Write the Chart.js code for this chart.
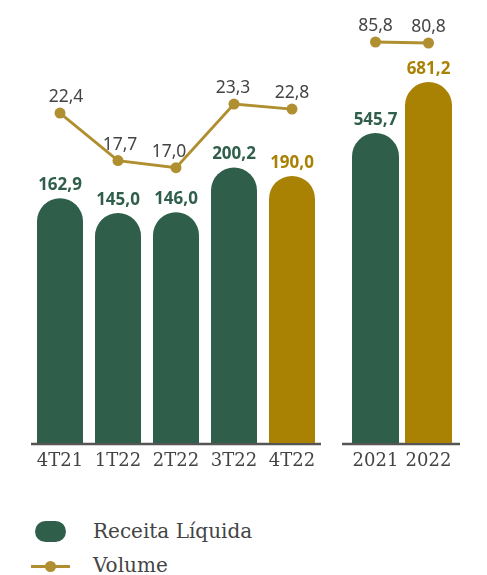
<!DOCTYPE html>
<html>
<head>
<meta charset="utf-8">
<script src="https://cdn.jsdelivr.net/npm/chart.js@4"></script>
<style>
  html, body { margin: 0; padding: 0; background: #fff; }
  #wrap { position: relative; width: 487px; height: 575px; overflow: hidden; }
  #cq { position: absolute; left: 0; top: 0; }
  #ca { position: absolute; left: 335px; top: 0; }
  .leg { position: absolute; left: 93px; font-family: "DejaVu Serif", serif; font-size: 20px; color: #444; line-height: 1; }
  .pill { position: absolute; left: 35px; top: 521px; width: 31px; height: 21px; border-radius: 10.5px; background: #2f5f4b; }
  .lline { position: absolute; left: 31px; top: 565px; width: 39px; height: 3px; background: #b08f30; }
  .ldot { position: absolute; left: 45px; top: 561px; width: 11px; height: 11px; border-radius: 50%; background: #b08f30; }
</style>
</head>
<body>
<div id="wrap">
  <canvas id="cq" width="335" height="480"></canvas>
  <canvas id="ca" width="152" height="480"></canvas>
  <div class="pill"></div>
  <div class="leg" style="top:521px">Receita Líquida</div>
  <div class="lline"></div>
  <div class="ldot"></div>
  <div class="leg" style="top:555px">Volume</div>
</div>
<script>
// ---- data ----
const quarterLabels = ['4T21', '1T22', '2T22', '3T22', '4T22'];
const quarterRevenue = [162.9, 145.0, 146.0, 200.2, 190.0];
const quarterVolume = [22.4, 17.7, 17.0, 23.3, 22.8];
const yearLabels = ['2021', '2022'];
const yearRevenue = [545.7, 681.2];
const yearVolume = [85.8, 80.8];

const GREEN = '#2f5f4b';
const GOLD = '#a98204';
const LINE = '#b08f30';
const fmt = v => v.toFixed(1).replace('.', ',');

const labelPlugin = {
  id: 'valLabels',
  afterDatasetsDraw(chart, args, opts) {
    const ctx = chart.ctx;
    ctx.save();
    ctx.textAlign = 'center';
    ctx.textBaseline = 'alphabetic';
    // bars
    const barMeta = chart.getDatasetMeta(0);
    const barDs = chart.data.datasets[0];
    ctx.font = 'bold 17px "Noto Sans", sans-serif';
    barMeta.data.forEach((el, i) => {
      ctx.fillStyle = barDs.backgroundColor[i];
      ctx.fillText(fmt(barDs.data[i]), el.x, el.y - 8);
    });
    // line
    const lineMeta = chart.getDatasetMeta(1);
    const lineDs = chart.data.datasets[1];
    ctx.font = '17.5px "Noto Sans", sans-serif';
    ctx.fillStyle = '#444';
    lineMeta.data.forEach((el, i) => {
      const dx = (opts.dx && opts.dx[i]) || 0;
      ctx.fillText(fmt(lineDs.data[i]), el.x + dx, el.y - 11);
    });
    ctx.restore();
  }
};

const baselinePlugin = {
  id: 'baseline',
  beforeDatasetsDraw(chart, args, opts) {
    const a = chart.chartArea, ctx = chart.ctx;
    ctx.save();
    ctx.strokeStyle = '#555';
    ctx.lineWidth = 2.5;
    ctx.beginPath();
    ctx.moveTo(a.left - (opts.extL || 0), a.bottom + 1);
    ctx.lineTo(a.right + (opts.extR || 0), a.bottom + 1);
    ctx.stroke();
    ctx.restore();
  }
};

function makeChart(id, labels, revenue, volume, colors, yMin, yMax, y2Min, y2Max, barPct, pad, extL, extR, dx) {
  return new Chart(document.getElementById(id), {
    type: 'bar',
    data: {
      labels: labels,
      datasets: [
        {
          type: 'bar',
          data: revenue,
          backgroundColor: colors,
          base: yMin,
          yAxisID: 'y',
          barPercentage: barPct,
          categoryPercentage: 1,
          borderRadius: { topLeft: 100, topRight: 100, bottomLeft: 0, bottomRight: 0 },
          borderSkipped: 'start',
          order: 2
        },
        {
          type: 'line',
          data: volume,
          yAxisID: 'y2',
          borderColor: LINE,
          backgroundColor: LINE,
          borderWidth: 2.8,
          pointRadius: 5.5,
          pointBackgroundColor: LINE,
          pointBorderWidth: 0,
          tension: 0,
          order: 1
        }
      ]
    },
    options: {
      responsive: false,
      animation: false,
      devicePixelRatio: 1,
      layout: { padding: { left: pad[0], right: pad[1], top: 20, bottom: 0 } },
      plugins: {
        legend: { display: false },
        tooltip: { enabled: false },
        valLabels: { dx: dx },
        baseline: { extL: extL, extR: extR }
      },
      scales: {
        x: {
          grid: { display: false, drawTicks: false },
          border: { display: false },
          ticks: {
            color: '#444',
            font: { family: '"DejaVu Serif", serif', size: 18 },
            padding: 8,
            autoSkip: false,
            maxRotation: 0,
            minRotation: 0
          },
          afterFit(s) { s.height = 37; }
        },
        y: { display: false, min: yMin, max: yMax },
        y2: { display: false, min: y2Min, max: y2Max }
      }
    },
    plugins: [labelPlugin, baselinePlugin]
  });
}

makeChart('cq', quarterLabels, quarterRevenue, quarterVolume,
  [GREEN, GREEN, GREEN, GREEN, GOLD],
  -133, 378.5, -10.26, 31.62, 0.793, [31, 14], 0, 0, [6, 2, -7, -1, 0]);

makeChart('ca', yearLabels, yearRevenue, yearVolume,
  [GREEN, GOLD],
  -277.9, 845.9, -1919.2, 195.8, 0.887, [14, 32], 7, 5, [0, 0]);
</script>
</body>
</html>
